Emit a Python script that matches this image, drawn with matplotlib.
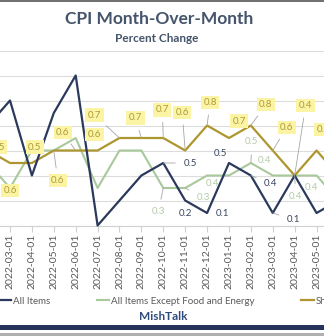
import matplotlib.pyplot as plt
from matplotlib.patches import Rectangle
from matplotlib.lines import Line2D

plt.rcParams['font.family'] = ['Lato', 'DejaVu Sans']

# Monthly CPI change, percent (2022-02 .. 2023-06)
months = ["2022-02-01", "2022-03-01", "2022-04-01", "2022-05-01", "2022-06-01",
          "2022-07-01", "2022-08-01", "2022-09-01", "2022-10-01", "2022-11-01",
          "2022-12-01", "2023-01-01", "2023-02-01", "2023-03-01", "2023-04-01",
          "2023-05-01", "2023-06-01"]
all_items = [0.8, 1.0, 0.4, 0.9, 1.2, 0.0, 0.2, 0.4, 0.5, 0.2, 0.1, 0.5, 0.4, 0.1, 0.4, 0.1, 0.2]
core = [0.5, 0.3, 0.6, 0.6, 0.7, 0.3, 0.6, 0.6, 0.3, 0.3, 0.4, 0.4, 0.5, 0.4, 0.4, 0.4, 0.2]
shelter = [0.6, 0.5, 0.5, 0.6, 0.6, 0.6, 0.7, 0.7, 0.7, 0.6, 0.8, 0.7, 0.8, 0.6, 0.4, 0.6, 0.4]

BLUE = "#2b3a5c"
GREEN = "#a9c89c"
GOLD = "#ad962e"

# data labels: (series, month index, dx px, dy px, leader)
labels = [
    ("shelter", 0, 22, -40, False),
    ("shelter", 1, -12, 16, False),
    ("shelter", 2, 3, 16, False),
    ("shelter", 3, 4, -30, True),
    ("shelter", 4, -13, 18, True),
    ("shelter", 5, -3, 16, False),
    ("shelter", 6, -25, 23, True),
    ("shelter", 7, -6, 20, True),
    ("shelter", 8, -1, 28, True),
    ("shelter", 9, -3, 38, True),
    ("shelter", 10, 3, 23, True),
    ("shelter", 11, 10, 17, False),
    ("shelter", 12, 15, 21, True),
    ("shelter", 13, 14, 23, True),
    ("shelter", 14, 11, 70, True),
    ("shelter", 15, 7, 21, False),
    ("all", 8, 27, 0, True),
    ("all", 9, 0, -13, False),
    ("all", 10, 15, 0, False),
    ("all", 11, -9, 9, False),
    ("all", 12, 20, -8, True),
    ("all", 13, 21, -7, True),
    ("core", 8, -5, -24, True),
    ("core", 9, 18, -10, True),
    ("core", 10, 5, -8, False),
    ("core", 12, 1, 21, True),
    ("core", 13, -8, 15, False),
    ("core", 14, 1, -21, True),
    ("core", 15, -5, -12, False),
]

fig = plt.figure(figsize=(3.24, 3.36), dpi=100)
ax = fig.add_axes([0, 110.5 / 336, 1, 175 / 336])

x = list(range(len(months)))
l1, = ax.plot(x, all_items, color=BLUE, lw=1.6, clip_on=False, zorder=4)
l2, = ax.plot(x, core, color=GREEN, lw=1.5, clip_on=False, zorder=3)
l3, = ax.plot(x, shelter, color=GOLD, lw=1.6, clip_on=False, zorder=3)

ax.set_xticks(x)
ax.set_xticklabels(months, rotation=90, fontsize=7.5, color="#595959")
ax.tick_params(axis="x", length=4, color="#d0d0d0", pad=2)
ax.set_xlim(0.543, 15.34)
ax.set_yticks([0, 0.2, 0.4, 0.6, 0.8, 1.0, 1.2, 1.4])
ax.set_ylim(0, 1.4)
ax.yaxis.grid(True, color="#dcdcdc", lw=0.8)
ax.set_axisbelow(True)
ax.tick_params(axis="y", length=0, labelleft=False)
for s in ["left", "right", "top"]:
    ax.spines[s].set_visible(False)
ax.spines["bottom"].set_color("#d0d0d0")

series = {"all": all_items, "core": core, "shelter": shelter}
for name, i, dx, dy, leader in labels:
    v = series[name][i]
    kw = dict(textcoords="offset pixels", ha="center", va="center",
              fontsize=7, annotation_clip=False, zorder=6)
    if name == "shelter":
        kw["color"] = "#b09a36"
        kw["bbox"] = dict(boxstyle="square,pad=0.25", fc="#fbf4a4", ec="none")
    elif name == "core":
        kw["color"] = "#b3cba6"
    else:
        kw["color"] = "#3a4660"
    if leader:
        kw["arrowprops"] = dict(arrowstyle="-", color="#a6a6a6", lw=0.6,
                                shrinkA=4, shrinkB=0)
    ax.annotate(f"{v:.1f}", xy=(i, v), xytext=(dx, dy), **kw)

fig.legend([l1, l2, l3], ["All Items", "All Items Except Food and Energy", "Shelter"],
           ncol=3, loc="center left", bbox_to_anchor=(-2 / 324, 1 - 301 / 336),
           frameon=False, fontsize=7, handlelength=1.3, handletextpad=0.2,
           columnspacing=4.8, borderpad=0, borderaxespad=0, labelcolor="#595959")

fig.text(0.49, 1 - 19 / 336, "CPI Month-Over-Month", ha="center", va="center",
         fontsize=12.5, fontweight="bold", color="#44546a")
fig.text(0.485, 1 - 38 / 336, "Percent Change", ha="center", va="center",
         fontsize=8.5, fontweight="bold", color="#44546a")
fig.text(0.503, 1 - 317 / 336, "MishTalk", ha="center", va="center",
         fontsize=8.5, fontweight="bold", color="#2f4b7c")

fig.add_artist(Line2D([0, 1], [0.998, 0.998], color="#555555", lw=1.2))
fig.patches.append(Rectangle((0, 6 / 336), 1, 5 / 336, transform=fig.transFigure,
                             fc="#27335a", ec="none"))
fig.patches.append(Rectangle((0, 0), 1, 3 / 336, transform=fig.transFigure,
                             fc="#b0b0b0", ec="none"))

fig.savefig("out.png", dpi=100)
